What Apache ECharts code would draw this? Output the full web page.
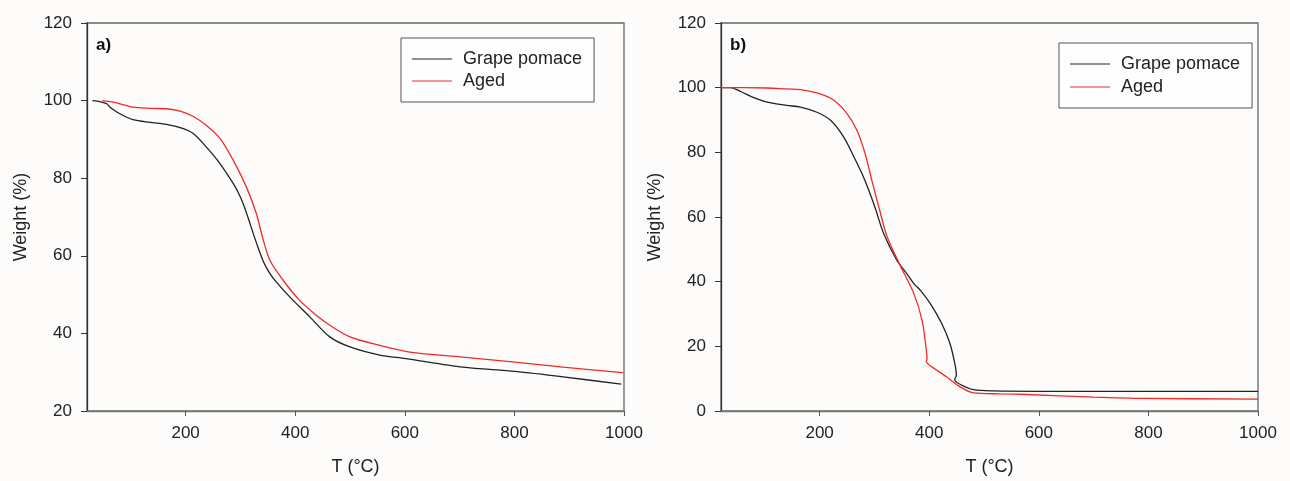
<!DOCTYPE html>
<html>
<head>
<meta charset="utf-8">
<script src="https://cdn.jsdelivr.net/npm/echarts@6/dist/echarts.min.js"></script>
<style>
html,body{margin:0;padding:0;background:#fdfcfb;}
#chart{width:1290px;height:481px;}
</style>
</head>
<body>
<div id="chart"></div>
<script>
// ---- Data ----
var seriesNames = ['Grape pomace', 'Aged'];
var panelLabels = ['a)', 'b)'];
var xTicks = [200, 400, 600, 800, 1000];

// Panel a) Grape pomace
var aPomaceT = [30, 45, 56, 62, 80, 104, 135, 165, 196, 214, 238, 263, 287, 296, 305, 314, 323, 332, 341, 350, 360, 390, 427, 463, 500, 554, 602, 706, 801, 889, 995];
var aPomaceW = [100, 99.7, 99.2, 98.3, 96.6, 95.1, 94.4, 93.9, 92.8, 91.5, 88, 83.7, 78.6, 76.3, 73.4, 69.8, 65.9, 62.2, 58.8, 56.3, 54.2, 49.4, 44.2, 39.1, 36.5, 34.4, 33.5, 31.3, 30.2, 28.8, 26.9];
// Panel a) Aged
var aAgedT = [48, 68, 104, 135, 165, 190, 214, 238, 263, 287, 311, 329, 341, 354, 378, 408, 439, 463, 500, 554, 609, 706, 801, 889, 998];
var aAgedW = [100, 99.6, 98.3, 98.0, 97.9, 97.3, 95.9, 93.6, 90.2, 84.6, 77.7, 70.9, 64.4, 58.8, 53.7, 48.5, 44.6, 42.1, 39.1, 36.9, 35.2, 33.9, 32.6, 31.3, 29.9];

// Panel b) Grape pomace
var bPomaceT = [20, 37, 55, 80, 104, 140, 165, 195, 220, 244, 262, 277, 289, 302, 317, 341, 359, 372, 384, 402, 423, 438, 448, 449.5, 446.5, 457, 481, 518, 600, 800, 1000];
var bPomaceW = [100, 100, 98.9, 96.9, 95.5, 94.5, 94.0, 92.4, 89.9, 84.7, 78.8, 73.5, 68.6, 62.5, 54.8, 46.6, 42.5, 39.4, 37.3, 33.2, 27, 20.8, 13.6, 11.0, 9.7, 8.2, 6.6, 6.2, 6.1, 6.1, 6.1];
// Panel b) Aged
var bAgedT = [20, 60, 104, 140, 165, 201, 226, 250, 268, 283, 295, 308, 323, 347, 372, 387, 394, 396, 394.6, 399, 432, 457, 481, 530, 578, 700, 791, 1000];
var bAgedW = [100, 100, 99.9, 99.6, 99.4, 98.1, 96.1, 92, 86.8, 79.6, 71.5, 63.1, 54.0, 45.0, 36.3, 28, 19.8, 16.2, 15.3, 14.4, 10.5, 7.4, 5.6, 5.3, 5.1, 4.3, 3.9, 3.7];

function zip(t, w) { return t.map(function (v, i) { return [v, w[i]]; }); }

var FONT = '"Liberation Sans", Arial, sans-serif';
var BLACK = '#222222';
var RED = '#ee2b2b';

function xAxisFor(gi) {
  return {
    type: 'value', gridIndex: gi, min: 20, max: 1000,
    name: 'T (°C)', nameLocation: 'middle', nameGap: 47,
    nameTextStyle: { fontFamily: FONT, fontSize: 18, color: '#222' },
    axisLine: { show: true, lineStyle: { color: '#777', width: 1.3 } },
    axisTick: { show: true, inside: false, length: 5, customValues: xTicks, lineStyle: { color: '#555' } },
    axisLabel: { customValues: xTicks, margin: 14, fontFamily: FONT, fontSize: 17, color: '#222',
      formatter: function (v) { return String(v); } },
    splitLine: { show: false }
  };
}
function yAxisFor(gi, mn) {
  return {
    type: 'value', gridIndex: gi, min: mn, max: 120, interval: 20,
    name: 'Weight (%)', nameLocation: 'middle', nameGap: 57,
    nameTextStyle: { fontFamily: FONT, fontSize: 18, color: '#222' },
    axisLine: { show: true, lineStyle: { color: '#333', width: 1.3 } },
    axisTick: { show: true, inside: false, length: 6, lineStyle: { color: '#333' } },
    axisLabel: { margin: 15, fontFamily: FONT, fontSize: 17, color: '#222',
      formatter: function (v) { return String(v); } },
    splitLine: { show: false }
  };
}
function legendFor(left, top, gap) {
  return {
    orient: 'vertical', left: left, top: top,
    data: seriesNames,
    icon: 'rect', itemWidth: 40, itemHeight: 1.2, itemGap: gap,
    padding: [12, 12, 12, 11],
    borderColor: '#555', borderWidth: 1, backgroundColor: '#fefefe',
    selectedMode: false,
    textStyle: { fontFamily: FONT, fontSize: 18, lineHeight: 18, color: '#222', padding: [0, 0, 0, 6] }
  };
}
function line(name, data, gi, color) {
  return {
    type: 'line', name: name, xAxisIndex: gi, yAxisIndex: gi,
    data: data, showSymbol: false, symbol: 'none', smooth: 0.3,
    lineStyle: { color: color, width: 1.3 }, itemStyle: { color: color },
    emphasis: { disabled: true }, animation: false
  };
}

var chart = echarts.init(document.getElementById('chart'), null, { renderer: 'canvas' });
chart.setOption({
  backgroundColor: '#fdfcfb',
  animation: false,
  title: [
    { text: panelLabels[0], left: 96, top: 37, padding: 0, textStyle: { fontFamily: FONT, fontSize: 17, fontWeight: 'bold', color: '#111' } },
    { text: panelLabels[1], left: 730, top: 37, padding: 0, textStyle: { fontFamily: FONT, fontSize: 17, fontWeight: 'bold', color: '#111' } }
  ],
  grid: [
    { left: 87, top: 23, width: 537, height: 388, show: true, borderColor: '#666', borderWidth: 1.3, backgroundColor: 'transparent' },
    { left: 721, top: 23, width: 537, height: 388, show: true, borderColor: '#666', borderWidth: 1.3, backgroundColor: 'transparent' }
  ],
  xAxis: [xAxisFor(0), xAxisFor(1)],
  yAxis: [yAxisFor(0, 20), yAxisFor(1, 0)],
  legend: [legendFor(401, 38, 4), legendFor(1059, 43, 5)],
  series: [
    line(seriesNames[0], zip(aPomaceT, aPomaceW), 0, BLACK),
    line(seriesNames[1], zip(aAgedT, aAgedW), 0, RED),
    line(seriesNames[0], zip(bPomaceT, bPomaceW), 1, BLACK),
    line(seriesNames[1], zip(bAgedT, bAgedW), 1, RED)
  ]
});
</script>
</body>
</html>
